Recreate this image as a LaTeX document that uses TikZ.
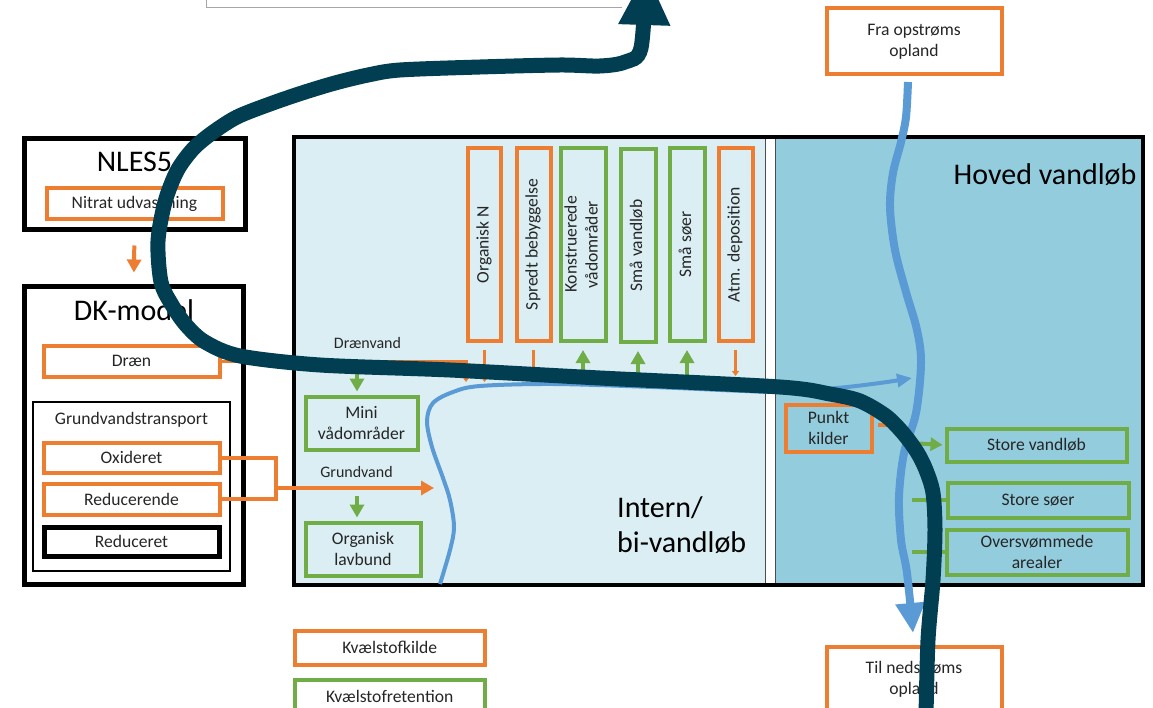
\documentclass[tikz,border=0pt]{standalone}
\usepackage{fontspec}
\setmainfont{Carlito}
\usetikzlibrary{arrows.meta}
\definecolor{cOr}{HTML}{ED7D31}
\definecolor{cGr}{HTML}{70AD47}
\definecolor{cBl}{HTML}{5B9BD5}
\definecolor{cDk}{HTML}{023E52}
\definecolor{cLb}{HTML}{DAEEF3}
\definecolor{cMb}{HTML}{93CDDD}
\definecolor{cTx}{HTML}{262626}
\definecolor{cGy}{HTML}{A6A6A6}
\newcommand\fsS{\fontsize{17.6}{21}\selectfont}
\newcommand\fsM{\fontsize{16}{19}\selectfont}
\newcommand\fsL{\fontsize{30}{35}\selectfont}
\newcommand\vtxt[1]{\rotatebox{90}{\begin{tabular}{@{}c@{}}#1\end{tabular}}}
\begin{document}
\begin{tikzpicture}[x=1pt,y=-1pt,
  box/.style={draw, inner sep=0pt, text=cTx, font=\fsS, align=center},
  obox/.style={box, draw=cOr, line width=4pt},
  gbox/.style={box, draw=cGr, line width=4pt},
  kbox/.style={box, draw=black, line width=5pt},
  big/.style={text=black, font=\fsL, inner sep=0pt},
  small/.style={text=cTx, font=\fsM, inner sep=0pt},
  oline/.style={draw=cOr, line width=4pt},
  oar/.style={draw=cOr, line width=4pt, -{Triangle[length=13pt,width=14pt]}},
  osm/.style={draw=cOr, line width=3pt, -{Triangle[length=5pt,width=7pt]}},
  gar/.style={draw=cGr, line width=4pt, -{Triangle[length=13pt,width=14pt]}},
  gln/.style={draw=cGr, line width=4pt}]
\useasboundingbox (0,0) rectangle (1153,708);
\clip (0,0) rectangle (1153,708);
\fill[white] (0,0) rectangle (1153,708);

% top gray partial frame
\draw[cGy, line width=1pt] (206,-5) -- (206,8) -- (622,8);

% NLES5
\node[kbox, minimum width=221, minimum height=91.5] (nles) at (134.5,184.25) {};
\node[big, anchor=base] (nlesT) at (134.5,172) {NLES5};
\node[obox, fill=white, minimum width=176, minimum height=31] (nitrat) at (134.5,203.5) {Nitrat udvaskning};

% DK-model
\node[kbox, minimum width=219.5, minimum height=298] (dk) at (133.75,435.5) {};
\node[big, anchor=base] (dkT) at (134,320) {DK-model};
\node[obox, fill=white, minimum width=176, minimum height=31] (drain) at (131.5,361) {Dræn};
\node[box, draw=black, line width=1.5pt, minimum width=197, minimum height=169] (gvt) at (131.5,486.5) {};
\node[small, font=\fsS] (gvtT) at (131.5,420) {Grundvandstransport};
\node[obox, fill=white, minimum width=176, minimum height=30] (oxid) at (131.5,457.5) {Oxideret};
\node[obox, fill=white, minimum width=176, minimum height=31] (reduc) at (131.5,499) {Reducerende};
\node[kbox, fill=white, minimum width=175, minimum height=29] (redt) at (131.5,541.5) {Reduceret};

\draw[oar, shorten <=13pt, shorten >=11.5pt] (nles.south) -- (dk.north);

% main area
\fill[cLb] (294,137) rectangle (765,585);
\fill[cMb] (775,137) rectangle (1143,585);
\draw[black!70, line width=0.8pt] (765,137) -- (765,585);
\draw[black!70, line width=0.8pt] (775,137) -- (775,585);
\node[draw=black, line width=4.5pt, inner sep=0pt, minimum width=849, minimum height=448] (main) at (718.5,361) {};

\node[big, anchor=base] (hoved) at (1045,185) {Hoved vandløb};
\node[big, anchor=west, align=left] (intern) at (617,525) {Intern/\\bi-vandløb};

% vertical boxes
\node[obox, minimum width=33, minimum height=192] (orgN) at (484.5,244.5) {\vtxt{Organisk N}};
\node[obox, minimum width=34, minimum height=192] (spredt) at (533.5,244.5) {\vtxt{Spredt bebyggelse}};
\node[gbox, minimum width=45, minimum height=192] (konst) at (583,244.5) {\vtxt{Konstruerede\\vådområder}};
\node[gbox, minimum width=35, minimum height=192] (smaaVl) at (638,245.5) {\vtxt{Små vandløb}};
\node[gbox, minimum width=35, minimum height=192] (smaaS) at (687,244.5) {\vtxt{Små søer}};
\node[obox, minimum width=34, minimum height=192] (atm) at (735.5,244.5) {\vtxt{Atm. deposition}};

\coordinate (dY) at (0,382);
\coordinate (aY) at (0,376);
\foreach \n in {orgN,spredt} \draw[osm, shorten <=7.5pt] (\n.south) -- (\n.south |- dY);
\draw[osm, shorten <=7.5pt] (atm.south) -- (atm.south |- aY);
\foreach \n in {konst,smaaVl,smaaS} \draw[gar, shorten >=7.5pt] (\n.south |- dY) -- (\n.south);

% left boxes in area
\node[gbox, minimum width=112, minimum height=53] (mini) at (361.5,423) {Mini\\vådområder};
\node[gbox, minimum width=115, minimum height=53] (lavb) at (363,549) {Organisk\\lavbund};
\node[small] (draenT) at (367.5,343) {Drænvand};
\node[small] (grundT) at (356.5,472.5) {Grundvand};

\draw[osm] (drain.east) -- ++(244.5,0) -- ++(0,21);
\coordinate (gA) at (357,363);
\draw[gar, shorten >=3pt] (gA) -- (gA |- mini.north);
\coordinate (gB) at (357,496);
\draw[gar, shorten >=3pt] (gB) -- (gB |- lavb.north);

\coordinate (jn) at (276,478);
\draw[oline] (oxid.east) -| (jn) |- (reduc.east);
\coordinate (gwS) at (276,488);
\coordinate (gwEnd) at (434,488);
\draw[oar] (gwS) -- (gwEnd);

% right side
\node[obox, minimum width=86, minimum height=47] (punkt) at (828.5,428) {Punkt\\kilder};
\node[gbox, minimum width=180, minimum height=33] (svl) at (1036.5,445) {Store vandløb};
\node[gbox, minimum width=181, minimum height=35] (ssoer) at (1038,500) {Store søer};
\node[gbox, minimum width=181, minimum height=45] (overs) at (1037,552) {Oversvømmede\\arealer};
\node[obox, fill=white, minimum width=175, minimum height=66] (fra) at (914,41.5) {Fra opstrøms\\opland};
\node[obox, fill=white, minimum width=175, minimum height=64] (til) at (914,679) {Til nedstrøms\\opland};

\coordinate (pkEnd) at (906,425);
\draw[oar, shorten <=4pt] (punkt.east |- pkEnd) -- (pkEnd);
\coordinate (rv1) at (910,443);
\draw[gar, -{Triangle[length=12pt,width=13pt]}, shorten >=2pt] (rv1) -- (svl.west);
\coordinate (rv2) at (912,500);
\draw[gln] (rv2) -- (ssoer.west);
\coordinate (rv3) at (912,552);
\draw[gln] (rv3) -- (overs.west);

% legend
\node[obox, fill=white, minimum width=190.5, minimum height=34] (legK) at (389.75,647.5) {Kvælstofkilde};
\node[gbox, fill=white, minimum width=190.5, minimum height=33] (legR) at (389.75,696) {Kvælstofretention};

% inner blue stream
\draw[cBl, line width=4pt, -{Triangle[length=15pt,width=13pt]}] plot[smooth, tension=0.55] coordinates {
 (440,584) (450,550) (454,527) (450,500) (443,478) (432,447) (427,421) (433,403) (453,392) (480,386)
 (553,384) (653,387) (780,392) (837,388) (880,383) (912,378)};

% main river
\draw[cBl, line width=8pt, -{Triangle[length=30pt,width=28pt]}] plot[smooth, tension=0.55] coordinates {
 (908,82) (906,117) (901,142) (893,173) (890,207) (895,250) (906,292) (917,330) (921,363)
 (916,413) (904,453) (899,497) (901,540) (907,573) (913,633)};

% dark swoosh
\draw[cDk, line width=15pt, -{Triangle[length=54pt,width=48pt]}] plot[smooth, tension=0.5] coordinates {
 (926,716) (928,640) (933,580) (935,530) (933,493) (926,470) (917,452) (903,433) (886,416)
 (860,401) (830,394) (780,387) (600,378) (450,370) (320,365) (240,356) (205,342) (186,325) (172,305)
 (161,282) (158,241) (165,202) (177,171) (193,149) (212,133) (237,117) (270,104) (302,93)
 (335,83) (368,75) (400,70) (480,67) (560,65) (600,66) (625,62) (641,48) (646,-29)};
\end{tikzpicture}
\end{document}
